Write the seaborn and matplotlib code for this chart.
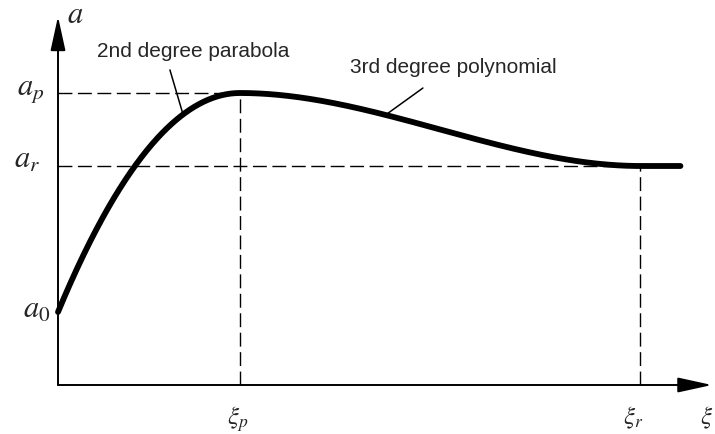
import numpy as np
import pandas as pd
import matplotlib
matplotlib.use("Agg")
import matplotlib.pyplot as plt
import seaborn as sns
from matplotlib.patches import FancyArrowPatch

# Characteristic points of the acceleration curve a(xi)
xi_p = 1.0      # position of the peak
xi_r = 3.2      # position where the curve levels off
xi_end = 3.42   # end of the drawn curve
a_0 = 0.25      # initial value
a_p = 1.0       # peak value
a_r = 0.75      # final (residual) value

segment_labels = ["2nd degree parabola", "3rd degree polynomial"]
axis_labels = {"a": r"$a$", "xi": r"$\xi$"}
level_labels = [r"$a_p$", r"$a_r$", r"$a_0$"]
pos_labels = [r"$\xi_p$", r"$\xi_r$"]

sns.set_style("white")
plt.rcParams["mathtext.fontset"] = "stix"
plt.rcParams["font.family"] = ["Liberation Sans", "DejaVu Sans"]


def curve(x):
    x = np.asarray(x, dtype=float)
    y = np.empty_like(x)
    m1 = x <= xi_p
    y[m1] = a_p - (a_p - a_0) * (1 - x[m1] / xi_p) ** 2
    m2 = (x > xi_p) & (x <= xi_r)
    s = (x[m2] - xi_p) / (xi_r - xi_p)
    y[m2] = a_p - (a_p - a_r) * (3 * s ** 2 - 2 * s ** 3)
    y[x > xi_r] = a_r
    return y


xs = np.concatenate([np.linspace(0, xi_p, 200), np.linspace(xi_p, xi_r, 300)[1:],
                     np.linspace(xi_r, xi_end, 20)[1:]])
df = pd.DataFrame({"xi": xs, "a": curve(xs)})

fig = plt.figure(figsize=(7.15, 4.34), dpi=100)
ax = fig.add_axes([0, 0, 1, 1])
ax.set_xlim(-0.3187, 3.6099)
ax.set_ylim(-0.1678, 1.3185)
ax.axis("off")

dash = dict(color="black", lw=1.0, dashes=(10, 4), zorder=1)
ax.plot([0, xi_p], [a_p, a_p], **dash)
ax.plot([0, xi_r], [a_r, a_r], **dash)
ax.plot([xi_p, xi_p], [0, a_p], **dash)
ax.plot([xi_r, xi_r], [0, a_r], **dash)

sns.lineplot(data=df, x="xi", y="a", ax=ax, color="black", lw=4.2,
             sort=False, estimator=None, zorder=3)
ax.set_xlabel("")
ax.set_ylabel("")

# Coordinate axes with arrow heads
for end in [(3.593, 0), (0, 1.262)]:
    arr = FancyArrowPatch((0, 0), end, arrowstyle="-|>,head_length=1.05,head_width=0.23",
                          mutation_scale=20, color="black", lw=1.4, shrinkA=0, shrinkB=0,
                          zorder=4)
    ax.add_patch(arr)

afs = 22
xfs = 18
ax.text(0.05, 1.24, axis_labels["a"], fontsize=afs, ha="left", va="baseline")
ax.text(3.53, -0.066, axis_labels["xi"], fontsize=xfs, ha="left", va="top")
for lab, yv, xr in zip(level_labels, [a_p - 0.007, a_r - 0.007, a_0 - 0.021],
                       [-0.077, -0.099, -0.044]):
    ax.text(xr, yv, lab, fontsize=afs, ha="right", va="baseline")
for lab, xv in zip(pos_labels, [xi_p - 0.014, xi_r - 0.038]):
    ax.text(xv, -0.066, lab, fontsize=xfs, ha="center", va="top")

# Segment captions with leader lines to the curve
ax.text(0.214, 1.123, segment_labels[0], fontsize=15, ha="left", va="baseline")
ax.text(1.604, 1.068, segment_labels[1], fontsize=15, ha="left", va="baseline")
for (tx, ty), xc in zip([(0.615, 1.079), (2.005, 1.017)], [0.687, 1.80]):
    ax.plot([tx, xc], [ty, curve([xc])[0]], color="black", lw=1.1, zorder=2)

fig.savefig("out.png", dpi=100, facecolor="white")
